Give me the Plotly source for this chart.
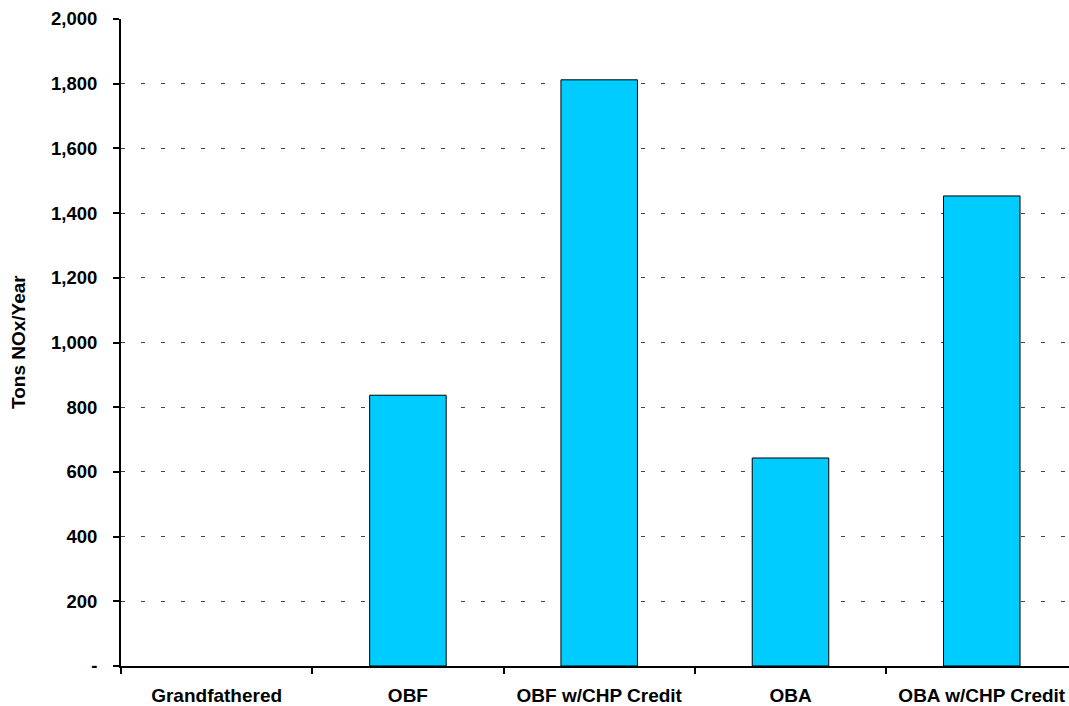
import plotly.graph_objects as go

# NOx allocation scenarios (tons per year)
categories = ["Grandfathered", "OBF", "OBF w/CHP Credit", "OBA", "OBA w/CHP Credit"]
nox_tons = [0, 837, 1812, 643, 1453]

y_tick_vals = [0, 200, 400, 600, 800, 1000, 1200, 1400, 1600, 1800, 2000]
y_tick_text = ["-", "200", "400", "600", "800", "1,000", "1,200", "1,400", "1,600", "1,800", "2,000"]

font_family = "Liberation Sans, Arial, sans-serif"

# no outline on empty bars
outline_widths = [1 if v > 0 else 0 for v in nox_tons]

fig = go.Figure(
    go.Bar(
        x=categories,
        y=nox_tons,
        width=0.4,
        marker=dict(color="#00CCFF", line=dict(color="black", width=outline_widths)),
    )
)

fig.update_layout(
    width=1069,
    height=706,
    margin=dict(l=121, r=0, t=19, b=40),
    paper_bgcolor="white",
    plot_bgcolor="white",
    showlegend=False,
    font=dict(family=font_family, color="black"),
)

fig.update_xaxes(
    type="category",
    range=[-0.5, 4.456],
    showline=True,
    linecolor="black",
    linewidth=2,
    ticks="outside",
    tickson="boundaries",
    ticklen=6,
    tickwidth=2,
    tickcolor="black",
    ticklabelstandoff=11,
    showgrid=False,
    tickfont=dict(size=19, family=font_family, color="black", weight="bold"),
)

fig.update_yaxes(
    range=[0, 2000],
    tickvals=y_tick_vals,
    ticktext=y_tick_text,
    showline=True,
    linecolor="black",
    linewidth=2,
    ticks="outside",
    ticklen=6,
    tickwidth=2,
    tickcolor="black",
    ticklabelstandoff=12,
    showgrid=True,
    gridcolor="#444444",
    gridwidth=1,
    griddash="4px,16px",
    zeroline=False,
    tickfont=dict(size=18.5, family=font_family, color="black", weight="bold"),
)

fig.add_annotation(
    text="Tons NOx/Year",
    xref="paper",
    yref="paper",
    x=(18.5 - 121) / 948,
    y=0.5,
    xanchor="center",
    yanchor="middle",
    textangle=-90,
    showarrow=False,
    font=dict(size=19, family=font_family, color="black", weight="bold"),
)

fig.write_html("out.html")
